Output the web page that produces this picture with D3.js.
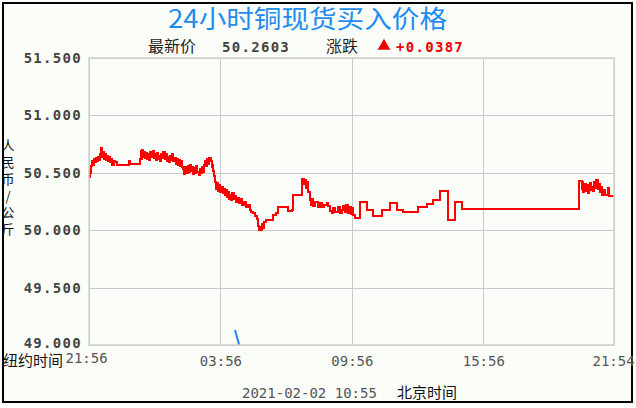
<!DOCTYPE html>
<html>
<head>
<meta charset="utf-8">
<script src="https://cdn.jsdelivr.net/npm/d3@7"></script>
<style>
	body { margin: 0; background: #fff; }
	svg text { font-family: "DejaVu Sans Mono", monospace; }
	.cjk { font-family: "Noto Sans CJK SC", sans-serif; }
</style>
</head>
<body>
<div id="chart"></div>
<script>
'use strict';

// minutes after 21:56 (NY), copper spot buy price
let priceMin = [
	0, 2, 4, 6, 8, 10, 13, 16, 19, 22, 25, 28, 31, 34, 36, 38, 40, 43, 46, 49, 52, 55, 58, 61, 64, 68, 72, 78, 110, 113, 140, 142,
	144, 146, 148, 150, 153, 156, 159, 162, 165, 168, 171, 174, 177, 180, 183, 186, 189, 192, 195, 198, 201, 204, 207, 210, 213, 216, 219, 222, 225, 228, 231, 234, 237, 240, 243, 246, 249, 252, 255,
	258, 261, 264, 267, 270, 273, 276, 279, 282, 285, 288, 291, 294, 297, 300, 303, 306, 309, 312, 315, 318, 321, 324, 327, 330, 333, 336, 338, 340, 342,
	345, 348, 351, 354, 357, 360, 363, 366, 369, 372, 375, 378, 381, 384, 387, 390, 393, 396, 399, 402, 405,
	410, 415, 420, 425, 430, 435, 440, 445, 450, 455, 460,
	464, 466, 469, 471, 474, 477, 480, 485, 495, 505, 512, 519, 528, 540, 546, 555, 560, 573, 583, 588, 591, 594, 597, 600,
	605, 608, 611, 614, 620, 626, 632, 638, 645, 651, 655, 660, 665, 669, 675, 681, 687, 693, 697, 701, 705, 709, 713, 717, 721, 724, 729,
	742, 761, 779, 802, 824, 843, 861, 902, 925, 943, 961, 984, 1002, 1023,
	1342, 1350, 1352, 1354, 1357, 1360, 1363, 1366, 1369, 1372, 1375, 1378, 1381, 1384, 1387, 1390, 1393, 1396, 1399, 1402, 1405, 1408, 1412, 1421, 1424, 1438,
];
let priceVal = [
	50.46, 50.52, 50.50, 50.56, 50.60, 50.57, 50.62, 50.59, 50.63, 50.60, 50.64, 50.61, 50.66, 50.72, 50.64, 50.68, 50.62, 50.66, 50.61, 50.65, 50.60, 50.64, 50.59, 50.62, 50.57, 50.60, 50.59, 50.57, 50.60, 50.58, 50.62, 50.69,
	50.62, 50.70, 50.64, 50.68, 50.63, 50.67, 50.62, 50.66, 50.61, 50.68, 50.64, 50.69, 50.63, 50.66, 50.61, 50.67, 50.62, 50.65, 50.60, 50.66, 50.63, 50.68, 50.62, 50.66, 50.60, 50.64, 50.59, 50.65, 50.61, 50.66, 50.60, 50.63, 50.58, 50.62, 50.57, 50.61, 50.56, 50.60, 50.55,
	50.53, 50.49, 50.55, 50.50, 50.56, 50.51, 50.57, 50.52, 50.55, 50.49, 50.54, 50.50, 50.56, 50.51, 50.48, 50.53, 50.50, 50.55, 50.51, 50.57, 50.60, 50.56, 50.62, 50.58, 50.63, 50.60, 50.55, 50.57, 50.52, 50.47,
	50.42, 50.36, 50.41, 50.34, 50.39, 50.33, 50.38, 50.32, 50.36, 50.31, 50.35, 50.29, 50.33, 50.27, 50.31, 50.26, 50.32, 50.27, 50.30, 50.25, 50.28,
	50.24, 50.27, 50.22, 50.25, 50.20, 50.22, 50.18, 50.16, 50.15, 50.12, 50.10,
	50.04, 50.00, 50.03, 50.00, 50.05, 50.02, 50.07, 50.09, 50.09, 50.13, 50.15, 50.20, 50.20, 50.20, 50.17, 50.18, 50.31, 50.31, 50.45, 50.40, 50.44, 50.37, 50.42, 50.33,
	50.26, 50.22, 50.27, 50.21, 50.25, 50.20, 50.24, 50.20, 50.22, 50.24, 50.21, 50.17, 50.15, 50.19, 50.16, 50.20, 50.15, 50.18, 50.21, 50.16, 50.22, 50.15, 50.20, 50.14, 50.19, 50.13, 50.11,
	50.25, 50.18, 50.12, 50.18, 50.24, 50.18, 50.16, 50.20, 50.23, 50.26, 50.34, 50.09, 50.25, 50.185,
	50.43, 50.36, 50.42, 50.33, 50.40, 50.34, 50.39, 50.32, 50.37, 50.41, 50.35, 50.38, 50.34, 50.42, 50.37, 50.44, 50.36, 50.40, 50.33, 50.38, 50.31, 50.35, 50.31, 50.37, 50.30, 50.30,
];

// second (blue) series, only a stub is visible at the bottom edge
let blueMin = [400, 413];
let blueVal = [49.13, 48.98];

let yTicks = [49.0, 49.5, 50.0, 50.5, 51.0, 51.5];
let xTickMin = [0, 360, 720, 1080, 1438];
let xTickLbl = ['21:56', '03:56', '09:56', '15:56', '21:54'];

let title = '24小时铜现货买入价格';
let yUnit = '人民币/公斤';
let lastPrice = '50.2603';
let change = '+0.0387';
let stamp = '2021-02-02 10:55';

function draw() {
	let W = 636, H = 408;
	let m = {l: 89, r: 614, t: 58, b: 345};

	let svg = d3.select('#chart')
		.append('svg')
			.attr('width', W)
			.attr('height', H)
		;

	svg.append('rect')
		.attr('x', 3).attr('y', 3).attr('width', 629).attr('height', 399)
		.attr('fill', '#fbfdf9').attr('stroke', '#000').attr('stroke-width', 2)
		;

	let x = d3.scaleLinear().domain([0, 1438]).range([m.l, m.r]);
	let y = d3.scaleLinear().domain([49, 51.5]).range([m.b, m.t]);

	svg.append('defs').append('clipPath').attr('id', 'plot')
		.append('rect')
		.attr('x', m.l).attr('y', m.t).attr('width', m.r - m.l).attr('height', m.b - m.t)
		;

	// grid
	let grid = svg.append('g').attr('shape-rendering', 'crispEdges');
	grid.selectAll('line.h').data(yTicks).join('line')
		.attr('x1', m.l).attr('x2', m.r)
		.attr('y1', d => Math.round(y(d)) + 0.5).attr('y2', d => Math.round(y(d)) + 0.5)
		.attr('stroke', '#c8c8c8')
		;
	grid.selectAll('line.v').data(xTickMin).join('line')
		.attr('y1', m.t).attr('y2', m.b)
		.attr('x1', d => Math.round(x(d)) + 0.5).attr('x2', d => Math.round(x(d)) + 0.5)
		.attr('stroke', '#c8c8c8')
		;

	// y axis labels
	let ya = svg.append('g')
		.attr('transform', 'translate(' + (m.l - 7) + ',0)')
		.call(d3.axisLeft(y).tickValues(yTicks).tickFormat(d3.format('.3f')).tickSize(0).tickPadding(0))
		;
	ya.select('.domain').remove();
	ya.selectAll('text')
		.attr('font-family', '"DejaVu Sans Mono", monospace')
		.attr('font-size', 14)
		.attr('font-weight', 'bold')
		.attr('letter-spacing', 1.3)
		.attr('fill', '#444')
		;
	// bottom label sits a touch higher so it clears the time caption
	ya.selectAll('.tick').filter(d => d == 49).select('text').attr('y', -2);

	// x axis labels
	let xa = svg.append('g')
		.attr('transform', 'translate(0,' + (m.b + 11) + ')')
		.call(d3.axisBottom(x).tickValues(xTickMin).tickFormat((d, i) => xTickLbl[i]).tickSize(0).tickPadding(0))
		;
	xa.select('.domain').remove();
	xa.selectAll('text')
		.attr('font-family', '"DejaVu Sans Mono", monospace')
		.attr('font-size', 14)
		.attr('fill', '#555')
		.attr('text-anchor', (d, i) => i == 0 ? 'start' : (i == xTickLbl.length - 1 ? 'start' : 'middle'))
		.attr('x', (d, i) => i == 0 ? -24 : (i == xTickLbl.length - 1 ? -22 : 0))
		;
	xa.selectAll('.tick').filter((d, i) => i == 0).select('text').attr('dy', '0.5em');

	// lines
	let line = d3.line()
		.x(d => x(d[0]))
		.y(d => y(d[1]))
		.curve(d3.curveStepAfter)
		;
	let lines = svg.append('g').attr('clip-path', 'url(#plot)');
	lines.append('path')
		.datum(blueMin.map((t, i) => [t, blueVal[i]]))
		.attr('d', d3.line().x(d => x(d[0])).y(d => y(d[1])))
		.attr('fill', 'none').attr('stroke', '#1f86e8').attr('stroke-width', 2)
		;
	lines.append('path')
		.datum(priceMin.map((t, i) => [t, priceVal[i]]))
		.attr('d', line)
		.attr('fill', 'none').attr('stroke', '#ff0000').attr('stroke-width', 2)
		.attr('shape-rendering', 'crispEdges')
		;

	// title and header
	svg.append('text').classed('cjk', true)
		.attr('x', 168).attr('y', 28)
		.attr('font-size', 25)
		.attr('textLength', 279)
		.attr('lengthAdjust', 'spacingAndGlyphs')
		.attr('fill', '#1e8cf0')
		.text(title)
		;
	svg.append('text').classed('cjk', true)
		.attr('x', 148).attr('y', 52).attr('font-size', 16).attr('fill', '#222')
		.text('最新价')
		;
	svg.append('text')
		.attr('x', 222).attr('y', 52).attr('font-size', 14).attr('font-weight', 'bold')
		.attr('letter-spacing', 1.3).attr('fill', '#444')
		.text(lastPrice)
		;
	svg.append('text').classed('cjk', true)
		.attr('x', 326).attr('y', 52).attr('font-size', 16).attr('fill', '#222')
		.text('涨跌')
		;
	svg.append('path')
		.attr('d', d3.symbol(d3.symbolTriangle, 70))
		.attr('transform', 'translate(384,46)')
		.attr('fill', '#ee0000')
		;
	svg.append('text')
		.attr('x', 396).attr('y', 52).attr('font-size', 14).attr('font-weight', 'bold')
		.attr('letter-spacing', 1.3).attr('fill', '#ee0000')
		.text(change)
		;

	// vertical unit label, one char per row
	svg.append('text').classed('cjk', true)
		.attr('x', 8).attr('y', 139)
		.style('writing-mode', 'vertical-rl')
		.style('text-orientation', 'upright')
		.attr('font-size', 13)
		.attr('letter-spacing', 3.7)
		.attr('fill', '#111')
		.text(yUnit)
		;

	svg.append('text').classed('cjk', true)
		.attr('x', 3).attr('y', 366).attr('font-size', 15).attr('fill', '#111')
		.text('纽约时间')
		;
	svg.append('text')
		.attr('x', 242).attr('y', 398).attr('font-size', 14).attr('fill', '#555')
		.text(stamp)
		;
	svg.append('text').classed('cjk', true)
		.attr('x', 397).attr('y', 398).attr('font-size', 15).attr('fill', '#111')
		.text('北京时间')
		;

	// plot frame
	svg.append('rect')
		.attr('x', m.l).attr('y', m.t).attr('width', m.r - m.l).attr('height', m.b - m.t)
		.attr('fill', 'none').attr('stroke', '#d0d0d0').attr('stroke-width', 1.5)
		;
}

draw();
</script>
</body>
</html>
